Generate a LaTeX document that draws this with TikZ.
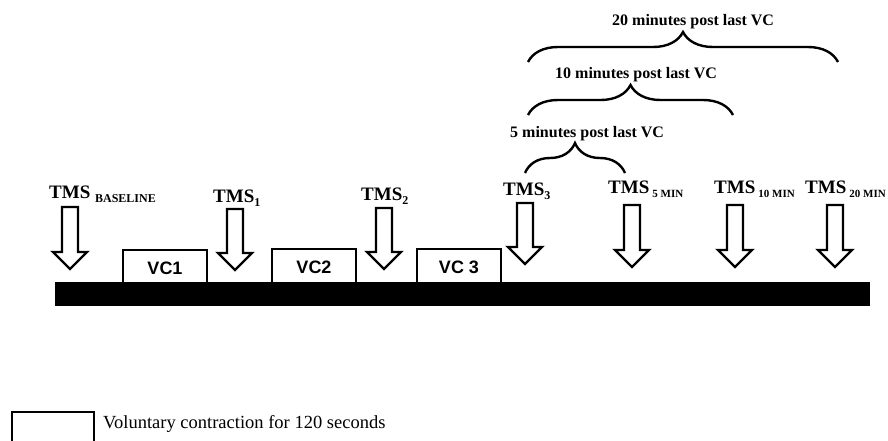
\documentclass[tikz,border=0pt]{standalone}
\usepackage{fontspec}
\setmainfont{Liberation Serif}
\newfontfamily\arialf{Liberation Sans}
\usetikzlibrary{decorations.pathreplacing}
\newcommand{\mysub}[1]{\raisebox{-4pt}{\fontsize{12}{12}\selectfont #1}}
\newcommand{\mysubs}[1]{\kern3pt\raisebox{-4pt}{\fontsize{11}{11}\selectfont #1}}
\newcommand{\tmsarrow}[3]{%
  \draw[arrowshape] (#1-8,#2) -- (#1+8,#2) -- (#1+8,#3-17) -- (#1+17,#3-17) -- (#1,#3) -- (#1-17,#3-17) -- (#1-8,#3-17) -- cycle;}
\tikzset{
  arrowshape/.style={draw=black, fill=white, line width=2.4pt, line join=miter},
  vcbox/.style={draw=black, fill=white, line width=2pt, inner sep=0pt},
  vclabel/.style={font=\arialf\bfseries\fontsize{18}{18}\selectfont},
  tmslabel/.style={anchor=base west, inner sep=0pt, font=\bfseries\fontsize{19}{19}\selectfont},
  bracelabel/.style={anchor=base west, inner sep=0pt, font=\bfseries\fontsize{16}{16}\selectfont},
  bracepath/.style={decorate, line width=2.4pt, decoration={brace, amplitude=30pt}},
}
\begin{document}
\begin{tikzpicture}[x=1pt, y=-1pt]
\useasboundingbox (0,0) rectangle (888,440);
% main bar
\fill[black] (55,282) rectangle (870,306);
% VC boxes
\draw[vcbox] (123,250) rectangle (207,283);
\node[vclabel] (vc1) at (165,268) {VC1};
\draw[vcbox] (272,249) rectangle (356,283);
\node[vclabel] (vc2) at (314,267) {VC2};
\draw[vcbox] (417,249) rectangle (501,283);
\node[vclabel] (vc3) at (459,267) {VC 3};
% arrows
\tmsarrow{70}{207}{269}
\tmsarrow{235}{209}{270}
\tmsarrow{384}{208}{269}
\tmsarrow{525}{203}{264}
\tmsarrow{632}{205}{267}
\tmsarrow{735}{205}{267}
\tmsarrow{835}{205}{267}
% TMS labels
\node[tmslabel] (t0) at (49,198) {TMS \mysub{BASELINE}};
\node[tmslabel] (t1) at (213,202) {TMS\mysub{1}};
\node[tmslabel] (t2) at (361,200) {TMS\mysub{2}};
\node[tmslabel] (t3) at (503,195) {TMS\mysub{3}};
\node[tmslabel] (t5) at (608,193) {TMS\mysubs{5 MIN}};
\node[tmslabel] (t10) at (714,193) {TMS\mysubs{10 MIN}};
\node[tmslabel] (t20) at (805,193) {TMS\mysubs{20 MIN}};
% braces
\draw[bracepath] (525,173) -- (625,173);
\node[bracelabel] (b5) at (510,137) {5 minutes post last VC};
\draw[bracepath] (528,115) -- (733,115);
\node[bracelabel] (b10) at (555,78) {10 minutes post last VC};
\draw[bracepath] (528,62) -- (838,62);
\node[bracelabel] (b20) at (612,25) {20 minutes post last VC};
% legend
\draw[line width=1.6pt] (12,441) -- (12,412) -- (94,412) -- (94,441);
\node[anchor=base west, inner sep=0pt, font=\fontsize{18.5}{18.5}\selectfont] (leg) at (103,428) {Voluntary contraction for 120 seconds};
\end{tikzpicture}
\end{document}
